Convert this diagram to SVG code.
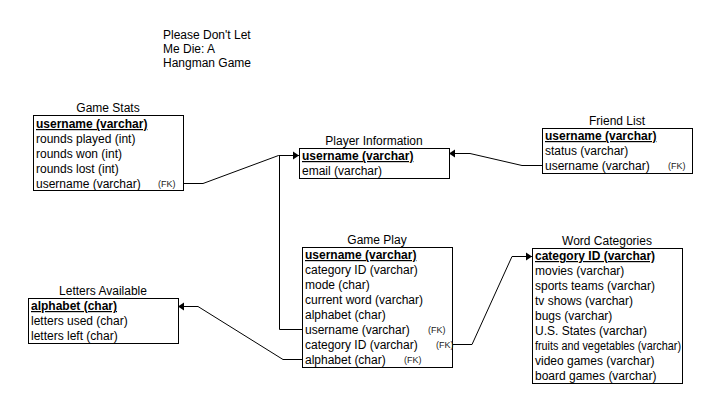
<svg xmlns="http://www.w3.org/2000/svg" width="718" height="409" viewBox="0 0 718 409">
<style>
text{font-family:"Liberation Sans",Arial,sans-serif;font-size:12px;fill:#000}
.t{text-anchor:middle}
.pk{font-weight:bold;text-decoration:underline}
.fk{font-size:9px;fill:#222}
.box{fill:#fff;stroke:#000;stroke-width:1}
.e{fill:none;stroke:#000;stroke-width:1}
</style>
<defs>
<marker id="a" viewBox="0 0 6 10" refX="6" refY="5" markerWidth="6" markerHeight="10" orient="auto" markerUnits="userSpaceOnUse">
<path d="M0,1 L6,5 L0,9 Z" fill="#000"/>
</marker>
</defs>
<rect width="718" height="409" fill="#fff"/>
<g id="title">
<text x="163" y="39">Please Don't Let</text>
<text x="163" y="53">Me Die: A</text>
<text x="163" y="67">Hangman Game</text>
</g>
<g id="connectors">
<path class="e" d="M183.5,183.5 H203 L278.5,155.5 H299" marker-end="url(#a)"/>
<path class="e" d="M302.5,329.5 H279.5 V155.5"/>
<path class="e" d="M542.5,165.5 H522 L470,153.5 H449" marker-end="url(#a)"/>
<path class="e" d="M452.5,344.5 H472 L512,256.5 H532" marker-end="url(#a)"/>
<path class="e" d="M302.5,359.5 H283 L198,306.5 H178" marker-end="url(#a)"/>
</g>
<g id="game-stats">
<text class="t" x="108" y="112">Game Stats</text>
<rect class="box" x="33.5" y="115.5" width="150" height="75"/>
<text class="pk" x="36" y="128">username (varchar)</text>
<text x="36" y="143">rounds played (int)</text>
<text x="36" y="158">rounds won (int)</text>
<text x="36" y="173">rounds lost (int)</text>
<text x="36" y="188">username (varchar)</text>
<text class="fk" x="158" y="187">(FK)</text>
</g>
<g id="player-information">
<text class="t" x="374" y="145">Player Information</text>
<rect class="box" x="299.5" y="148.5" width="150" height="30"/>
<text class="pk" x="302" y="160">username (varchar)</text>
<text x="302" y="175">email (varchar)</text>
</g>
<g id="friend-list">
<text class="t" x="617" y="125">Friend List</text>
<rect class="box" x="542.5" y="128.5" width="150" height="45"/>
<text class="pk" x="545" y="140">username (varchar)</text>
<text x="545" y="155">status (varchar)</text>
<text x="545" y="170">username (varchar)</text>
<text class="fk" x="668" y="169">(FK)</text>
</g>
<g id="game-play">
<text class="t" x="377" y="244">Game Play</text>
<rect class="box" x="302.5" y="247.5" width="150" height="120"/>
<text class="pk" x="305" y="259">username (varchar)</text>
<text x="305" y="274">category ID (varchar)</text>
<text x="305" y="289">mode (char)</text>
<text x="305" y="304">current word (varchar)</text>
<text x="305" y="319">alphabet (char)</text>
<text x="305" y="334">username (varchar)</text>
<text x="305" y="349">category ID (varchar)</text>
<text x="305" y="364">alphabet (char)</text>
<text class="fk" x="428" y="333">(FK)</text>
<text class="fk" x="436" y="348">(FK)</text>
<text class="fk" x="404" y="363">(FK)</text>
</g>
<g id="word-categories">
<text class="t" x="607" y="245">Word Categories</text>
<rect class="box" x="532.5" y="248.5" width="150" height="135"/>
<text class="pk" x="535" y="260">category ID (varchar)</text>
<text x="535" y="275">movies (varchar)</text>
<text x="535" y="290">sports teams (varchar)</text>
<text x="535" y="305">tv shows (varchar)</text>
<text x="535" y="320">bugs (varchar)</text>
<text x="535" y="335">U.S. States (varchar)</text>
<text x="535" y="350" textLength="146" lengthAdjust="spacingAndGlyphs">fruits and vegetables (varchar)</text>
<text x="535" y="365">video games (varchar)</text>
<text x="535" y="380">board games (varchar)</text>
</g>
<g id="letters-available">
<text class="t" x="103" y="295">Letters Available</text>
<rect class="box" x="28.5" y="298.5" width="150" height="45"/>
<text class="pk" x="31" y="310">alphabet (char)</text>
<text x="31" y="325">letters used (char)</text>
<text x="31" y="340">letters left (char)</text>
</g>
</svg>
